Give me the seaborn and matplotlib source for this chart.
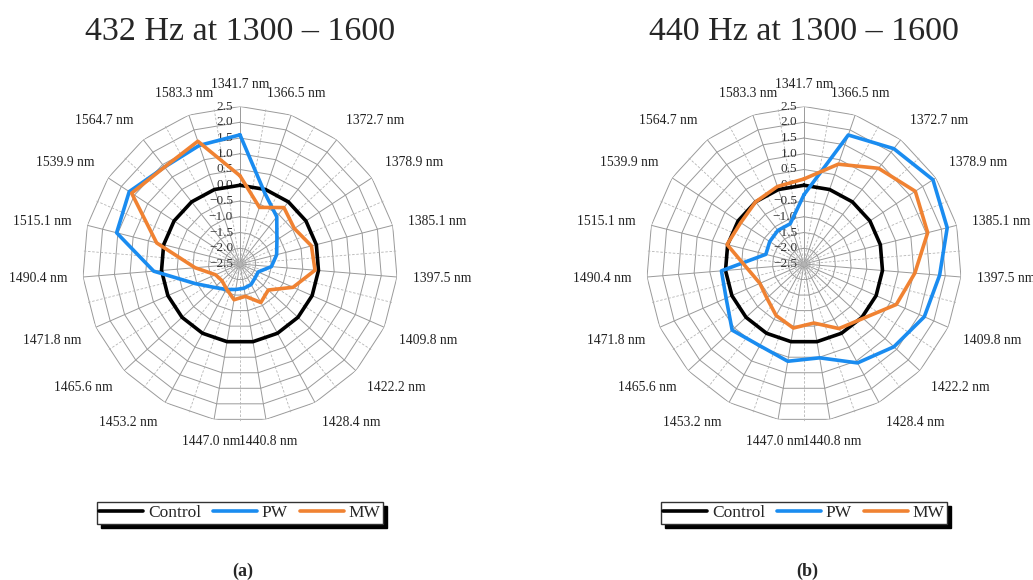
import numpy as np
import pandas as pd
import seaborn as sns
import matplotlib.pyplot as plt
from matplotlib.lines import Line2D

# wavelength categories (clockwise from top)
wavelengths = ["1341.7 nm", "1366.5 nm", "1372.7 nm", "1378.9 nm", "1385.1 nm",
               "1397.5 nm", "1409.8 nm", "1422.2 nm", "1428.4 nm", "1440.8 nm",
               "1447.0 nm", "1453.2 nm", "1465.6 nm", "1471.8 nm", "1490.4 nm",
               "1515.1 nm", "1539.9 nm", "1564.7 nm", "1583.3 nm"]

control = [0, 0, 0, 0, 0, 0, 0, 0, 0, 0, 0, 0, 0, 0, 0, 0, 0, 0, 0]

# (a) 432 Hz
pw_432 = [1.6, -0.1, -0.6, -1.1, -1.3, -1.5, -1.87, -1.85, -1.76, -1.72,
          -1.68, -1.58, -1.4, -0.95, 0.25, 1.54, 1.7, 1.4, 1.48]
mw_432 = [0.3, -0.6, -0.23, -0.44, -0.16, -0.11, -0.66, -1.28, -1.11, -1.46,
          -1.35, -1.6, -1.72, -1.65, -1.07, 0.23, 1.61, 1.4, 1.62]

# (b) 440 Hz
pw_440 = [-0.3, 1.83, 2.14, 2.39, 2.19, 1.82, 1.67, 1.38, 1.07, 0.52,
          0.63, 0.45, 0.6, 0.2, 0.13, -1.25, -1.2, -1.15, -1.15]
mw_440 = [0.2, 0.85, 1.35, 1.72, 1.55, 1.03, 0.7, 0.05, -0.17, -0.6,
          -0.44, -0.64, -0.9, -0.97, -0.7, 0.02, -0.1, 0.0, 0.1]

r_ticks = [2.5, 2.0, 1.5, 1.0, 0.5, 0.0, -0.5, -1.0, -1.5, -2.0, -2.5]
titles = ["432 Hz at 1300 \u2013 1600", "440 Hz at 1300 \u2013 1600"]
panel_tags = ["(a)", "(b)"]
series_names = ["Control", "PW", "MW"]

sns.set_style("white")
plt.rcParams['font.family'] = ['Liberation Serif', 'DejaVu Serif']

colors = {"Control": "black", "PW": "#1a8cf0", "MW": "#f08232"}

fig = plt.figure(figsize=(10.33, 5.8), dpi=100)
W, H = 1033, 580
R = 157.5
centers = [(240, 264), (804, 264)]

n = len(wavelengths)
theta = np.linspace(0, 2 * np.pi, n, endpoint=False)
theta_c = np.append(theta, theta[0])
theta_mid = theta + np.pi / n


def make_df(pw, mw):
    rows = []
    for name, vals in zip(series_names, [control, pw, mw]):
        vv = list(vals) + [vals[0]]
        for i, (t, v) in enumerate(zip(theta_c, vv)):
            rows.append({"angle": t, "value": v, "series": name, "order": i})
    return pd.DataFrame(rows)


for p, (pw, mw) in enumerate([(pw_432, mw_432), (pw_440, mw_440)]):
    cx, cy = centers[p]
    ax = fig.add_axes([(cx - R) / W, 1 - (cy + R) / H, 2 * R / W, 2 * R / H],
                      projection="polar")
    ax.set_theta_zero_location("N")
    ax.set_theta_direction(-1)
    ax.set_ylim(-2.5, 2.5)
    ax.grid(False)
    ax.spines["polar"].set_visible(False)
    ax.set_xticks([])
    ax.set_yticks([])
    ax.set_facecolor("none")

    # polygon grid
    for v in r_ticks:
        ax.plot(theta_c, [v] * (n + 1), color="#9a9a9a", lw=0.7, zorder=1)
    for t in theta:
        ax.plot([t, t], [-2.5, 2.5], color="#9a9a9a", lw=0.7, zorder=1)
    for t in theta_mid:
        ax.plot([t, t], [-2.5, 2.5], color="#b5b5b5", lw=0.6, zorder=1,
                dashes=(3, 2))

    df = make_df(pw, mw)
    sns.lineplot(data=df, x="angle", y="value", hue="series", palette=colors,
                 sort=False, estimator=None, lw=2.6, ax=ax, legend=False,
                 zorder=3)
    ax.set_xlabel("")
    ax.set_ylabel("")

    for v in r_ticks:
        lab = ("\u2212" if v < 0 else "") + "%.1f" % abs(v)
        ax.annotate(lab, xy=(0, v), xytext=(-5, 0), textcoords="offset points",
                    ha="right", va="center", fontsize=9.5, color="#333333",
                    zorder=2)

    for t, lab in zip(theta, wavelengths):
        s, c = np.sin(t), np.cos(t)
        ha = "center" if abs(s) < 0.4 else ("left" if s > 0 else "right")
        va = "center" if abs(c) < 0.35 else ("bottom" if c > 0 else "top")
        ax.text(t, 3.0, lab, ha=ha, va=va, fontsize=9.8, color="#222222")

    fig.text(cx / W, 1 - 40 / H, titles[p], ha="center", va="baseline",
             fontsize=24.5)
    fig.text((cx + 3) / W, 1 - 571 / H, panel_tags[p], ha="center",
             va="center", fontsize=13, fontweight="bold")

    handles = [Line2D([], [], color=colors[s], lw=2.6) for s in series_names]
    fig.legend(handles, series_names, loc="center",
               bbox_to_anchor=(cx / W, 1 - 513 / H), ncol=3, fontsize=12.5,
               frameon=True, fancybox=False, framealpha=1, edgecolor="#333333",
               handlelength=2.5, handletextpad=0.3, columnspacing=0.7,
               borderpad=0.15,
               shadow={"ox": 3, "oy": -3, "facecolor": "black",
                       "edgecolor": "black", "alpha": 1})

fig.savefig("out.png", dpi=100)
